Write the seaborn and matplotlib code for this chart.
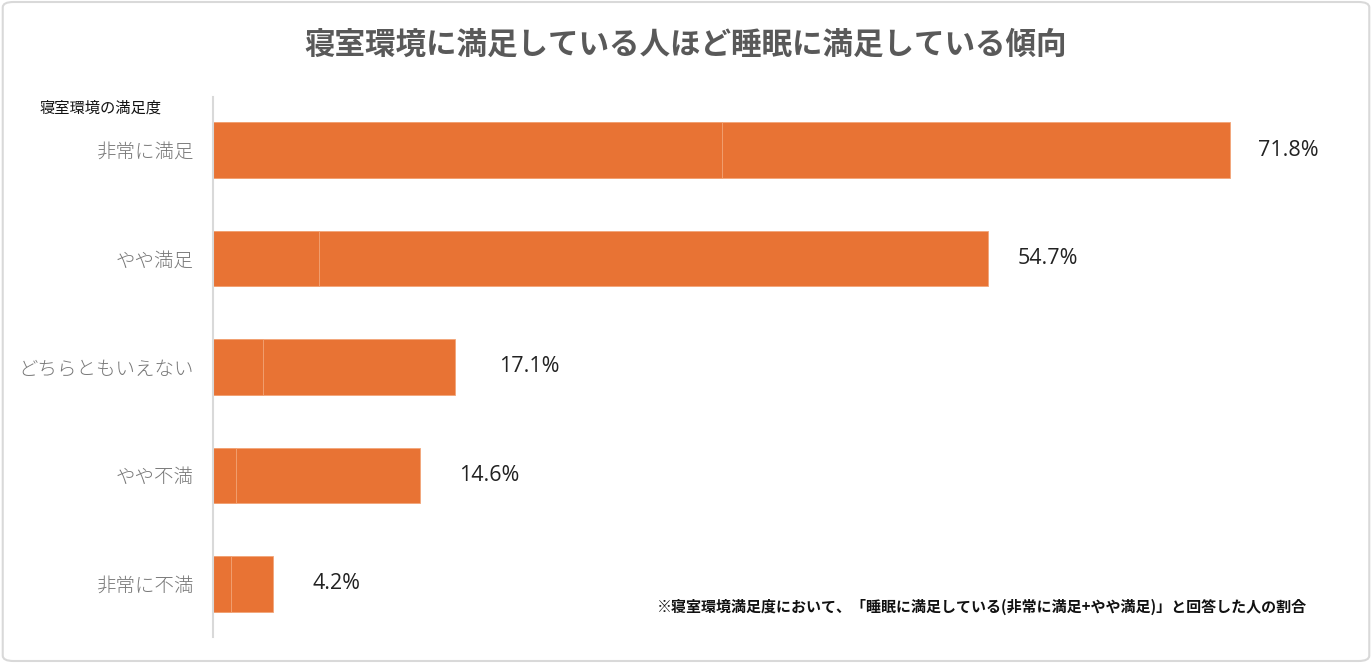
import matplotlib
matplotlib.use("Agg")
import matplotlib.pyplot as plt
from matplotlib.patches import FancyBboxPatch
import seaborn as sns
import pandas as pd

categories = ["非常に満足", "やや満足", "どちらともいえない", "やや不満", "非常に不満"]
very_satisfied = [35.9, 7.5, 3.5, 1.6, 1.3]
somewhat_satisfied = [35.9, 47.2, 13.6, 13.0, 2.9]
total_labels = ["71.8%", "54.7%", "17.1%", "14.6%", "4.2%"]

title = "寝室環境に満足している人ほど睡眠に満足している傾向"
axis_label = "寝室環境の満足度"
note = "※寝室環境満足度において、「睡眠に満足している(非常に満足+やや満足)」と回答した人の割合"

sns.set_theme(style="white")
plt.rcParams["font.family"] = ["Noto Sans CJK JP", "DejaVu Sans"]

df = pd.DataFrame({
    "cat": categories,
    "seg1": very_satisfied,
    "total": [a + b for a, b in zip(very_satisfied, somewhat_satisfied)],
})

fig = plt.figure(figsize=(13.72, 6.63), dpi=100)
fig.patch.set_facecolor("white")

# outer rounded frame
frame = FancyBboxPatch((0.002, 0.003), 0.996, 0.994,
                       boxstyle="round,pad=0,rounding_size=0.008",
                       transform=fig.transFigure, facecolor="none",
                       edgecolor="#d9d9d9", linewidth=1.5)
fig.patches.append(frame)

ax = fig.add_axes([213 / 1372, 1 - 637 / 663, (1345 - 213) / 1372, (637 - 97) / 663])

bar_color = "#E87334"
edge_color = "#F2A679"
sns.barplot(data=df, x="total", y="cat", orient="h", color=bar_color,
            saturation=1, width=0.51, ax=ax, edgecolor=edge_color, linewidth=0.6)
sns.barplot(data=df, x="seg1", y="cat", orient="h", color=bar_color,
            saturation=1, width=0.51, ax=ax, edgecolor=edge_color, linewidth=0.6)

ax.set_xlim(0, (1345 - 213) / 14.17)
ax.set_ylim(4.49, -0.49)
ax.set_xlabel("")
ax.set_ylabel("")
ax.set_xticks([])
ax.tick_params(axis="y", length=0, pad=14, labelsize=14, labelcolor="#777777")
for lbl in ax.get_yticklabels():
    lbl.set_fontweight("light")

for side in ["top", "right", "bottom"]:
    ax.spines[side].set_visible(False)
ax.spines["left"].set_color("#d9d9d9")
ax.spines["left"].set_linewidth(1.5)

offsets = [28, 30, 44, 39, 40]
for i, (tot, lab) in enumerate(zip(df["total"], total_labels)):
    ax.annotate(lab, xy=(tot, i), xytext=(offsets[i] * 0.72, 0),
                textcoords="offset points", va="center", ha="left",
                fontsize=15.5, color="#222222",
                family=["Open Sans", "DejaVu Sans"])

fig.text(0.5, 1 - 45 / 663, title, ha="center", va="center",
         fontsize=22, fontweight="bold", color="#595959")
fig.text(40 / 1372, 1 - 108 / 663, axis_label, ha="left", va="center",
         fontsize=11, color="#111111")
fig.text(1307 / 1372, 1 - 607 / 663, note, ha="right", va="center",
         fontsize=10.8, fontweight="bold", color="#111111")

fig.savefig("out.png", dpi=100, facecolor="white")
